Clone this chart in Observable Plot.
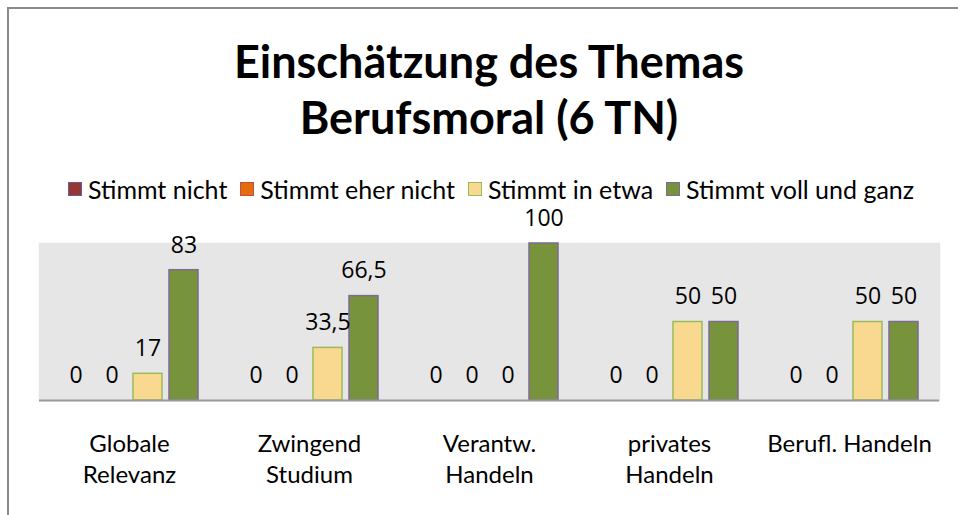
<!DOCTYPE html>
<html><head><meta charset="utf-8">
<script src="https://cdn.jsdelivr.net/npm/d3@7"></script>
<script src="https://cdn.jsdelivr.net/npm/@observablehq/plot@0.6"></script>
<style>
body{margin:0;background:#fff;}
#wrap{position:relative;width:958px;height:515px;overflow:hidden;font-family:Lato,sans-serif;background:#fff;}
#frame{position:absolute;left:7px;top:7px;width:1000px;height:600px;border-left:2px solid #8a8a8a;border-top:2px solid #8a8a8a;}
#title{position:absolute;left:20px;width:938px;top:33px;text-align:center;font-weight:bold;font-size:45px;line-height:56px;color:#000;}
#legend{position:absolute;top:174px;left:68px;display:flex;align-items:center;font-size:25px;color:#000;white-space:nowrap;}
#legend .item{display:flex;align-items:center;margin-right:13px;}
#legend .sw{width:14px;height:14px;margin-right:6px;box-sizing:border-box;border:1.5px solid;}
#chart{position:absolute;left:0;top:200px;}
</style></head>
<body>
<div id="wrap">
  <div id="frame"></div>
  <div id="title">Einschätzung des Themas<br>Berufsmoral (6 TN)</div>
  <div id="legend"></div>
  <div id="chart"></div>
</div>
<script>
const categories = ["Globale Relevanz","Zwingend Studium","Verantw. Handeln","privates Handeln","Berufl. Handeln"];
const categoryLabels = ["Globale\nRelevanz","Zwingend\nStudium","Verantw.\nHandeln","privates\nHandeln","Berufl. Handeln"];
const series = ["Stimmt nicht","Stimmt eher nicht","Stimmt in etwa","Stimmt voll und ganz"];
const stimmtNicht      = [0, 0,    0,   0,  0];
const stimmtEherNicht  = [0, 0,    0,   0,  0];
const stimmtInEtwa     = [17, 33.5, 0,  50, 50];
const stimmtVollUndGanz= [83, 66.5, 100, 50, 50];
const seriesValues = [stimmtNicht, stimmtEherNicht, stimmtInEtwa, stimmtVollUndGanz];
const fills   = ["#953735","#E46C0A","#F9D98F","#77933C"];
const strokes = ["#6F5B8A","#C0504D","#9BBB59","#7D6A97"];

const data = categories.flatMap((c, ci) => series.map((s, si) => ({cat: c, series: s, si, value: seriesValues[si][ci]})));
const fmt = v => String(v).replace(".", ",");

// legend
const lg = document.getElementById("legend");
series.forEach((s, i) => {
  const it = document.createElement("div"); it.className = "item";
  const sw = document.createElement("div"); sw.className = "sw";
  sw.style.background = fills[i]; sw.style.borderColor = strokes[i];
  const t = document.createElement("span"); t.textContent = s;
  it.appendChild(sw); it.appendChild(t); lg.appendChild(it);
});

const barMarks = series.map((s, i) => Plot.barY(data.filter(d => d.si === i && d.value > 0), {
  fx: "cat", x: "series", y: "value", fill: fills[i], stroke: strokes[i], strokeWidth: 1.5
}));

const chart = Plot.plot({
  width: 958, height: 315,
  marginTop: 43, marginBottom: 115, marginLeft: 38, marginRight: 18,
  fx: {domain: categories, padding: 0},
  x: {domain: series, paddingInner: 0.2, paddingOuter: 0.55, axis: null},
  y: {domain: [0, 100], axis: null},
  style: {fontFamily: "Lato, sans-serif", background: "transparent"},
  marks: [
    Plot.frame({fill: "#E6E6E6", stroke: "#E6E6E6", strokeWidth: 1.5}),
    ...barMarks,
    Plot.text(data, {fx: "cat", x: "series", y: "value", text: d => fmt(d.value), dy: -25,
      fontSize: 23, fontFamily: "Open Sans", fill: "#000"}),
    Plot.ruleY([0], {stroke: "#9a9a9a", strokeWidth: 2}),
    Plot.axisFx({anchor: "bottom", tickSize: 0, tickPadding: 30, fontSize: 24, lineHeight: 1.28,
      tickFormat: d => categoryLabels[categories.indexOf(d)], label: null, fill: "#000"})
  ]
});
document.getElementById("chart").appendChild(chart);
</script>
</body></html>
